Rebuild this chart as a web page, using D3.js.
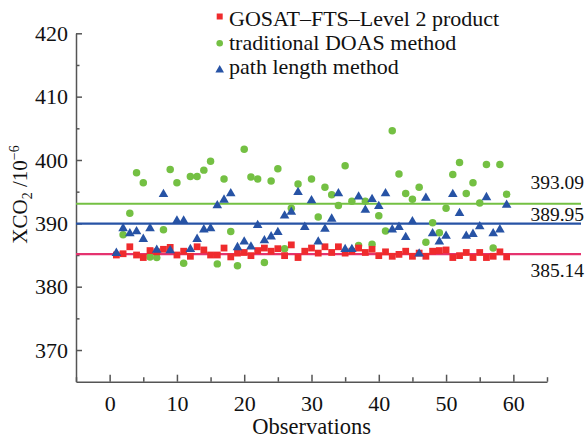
<!DOCTYPE html>
<html>
<head>
<meta charset="utf-8">
<script src="https://cdn.jsdelivr.net/npm/d3@7"></script>
<style>
  body { margin: 0; background: #fff; }
  text { font-family: "Liberation Serif", "DejaVu Serif", serif; fill: #111; }
</style>
</head>
<body>
<svg id="chart" width="588" height="438"></svg>
<script>
(function() {
  'use strict';

  // observation numbers 1..59
  var observations = d3.range(1, 60);

  // GOSAT-FTS Level 2 product
  var gosatValues = [
    385.0, 385.2, 386.3, 385.0, 384.6, 385.7, 385.5, 385.9, 386.2, 385.0,
    385.6, 384.8, 386.3, 385.8, 385.0, 385.0, 386.1, 384.7, 385.3, 385.4,
    384.9, 385.7, 386.1, 385.6, 386.0, 384.9, 386.6, 384.6, 385.6, 386.1,
    385.3, 386.3, 385.4, 386.3, 385.3, 385.6, 386.1, 385.4, 385.9, 384.9,
    385.5, 384.8, 385.1, 385.6, 384.8, 385.3, 384.8, 385.6, 385.7, 385.8,
    384.6, 384.9, 385.4, 384.6, 385.4, 384.6, 384.8, 385.5, 384.7
  ];

  // traditional DOAS method (null = not visible)
  var doasValues = [
    null,  388.2, 391.6, 398.0, 396.4, 384.7, 384.6, 389.0, 398.5, 396.4,
    383.7, 397.4, 397.4, 398.4, 399.8, 383.6, 397.0, 388.7, 383.3, 401.7,
    397.3, 397.0, 383.8, 396.7, 398.6, 386.0, 392.4, 396.2, null,  397.0,
    391.0, 395.7, 394.5, 392.8, 399.1, 393.5, 386.5, 393.5, 386.7, 391.2,
    388.8, 404.6, 397.8, 394.7, 393.8, 395.7, 387.0, 390.1, 388.5, 392.4,
    397.7, 399.6, 394.7, 396.4, 393.2, 399.3, 386.1, 399.3, 394.6
  ];

  // path length method
  var pathValues = [
    385.3, 389.2, 388.4, 388.7, 387.5, 389.2, 385.8, 394.6, 385.7, 390.4,
    390.4, 385.9, 387.5, 389.0, 389.2, 392.8, 393.7, 394.7, 386.2, 387.1,
    386.3, 389.7, 387.3, 387.9, 388.6, 391.2, 391.8, 394.9, 389.4, 393.6,
    387.1, 389.1, 390.7, 394.7, 385.9, 385.9, 394.2, 392.1, 393.8, 392.7,
    394.7, 389.0, 389.4, 387.8, 390.3, 385.2, 394.0, 388.4, 387.1, 388.0,
    394.6, 391.6, 388.0, 388.3, 389.5, 394.1, 388.4, 389.0, 392.9
  ];

  var seriesNames = ['GOSAT\u2013FTS\u2013Level 2 product', 'traditional DOAS method', 'path length method'];
  var meanValues = [393.09, 389.95, 385.14];
  var meanLabels = ['393.09', '389.95', '385.14'];
  var xTicks = [0, 10, 20, 30, 40, 50, 60];
  var xMinor = [-5, 5, 15, 25, 35, 45, 55, 65];
  var yTicks = [370, 380, 390, 400, 410, 420];
  var yMinor = [375, 385, 395, 405, 415];

  var colors = { red: '#ef2b2d', green: '#74c043', blue: '#2753a5', pink: '#e5336f', axis: '#555' };

  var svg = d3.select('#chart');
  svg.append('rect').attr('width', 588).attr('height', 438).attr('fill', '#fff');

  var x = d3.scaleLinear().domain([-5, 65]).range([76, 547]);
  var y = d3.scaleLinear().domain([365, 420]).range([381.7, 33.3]);

  function styleAxis(g) {
    g.selectAll('path, line').attr('stroke', colors.axis).attr('stroke-width', 1.5);
    g.selectAll('text').attr('fill', '#111').attr('font-size', 22)
      .attr('font-family', '"Liberation Serif", serif');
  }

  // minor ticks
  svg.append('g').attr('transform', 'translate(0,' + y(365) + ')')
    .call(d3.axisBottom(x).tickValues(xMinor).tickFormat('').tickSizeInner(-4.5).tickSizeOuter(0))
    .call(styleAxis).select('.domain').remove();
  svg.append('g').attr('transform', 'translate(' + x(-5) + ',0)')
    .call(d3.axisLeft(y).tickValues(yMinor).tickFormat('').tickSizeInner(-3.5).tickSizeOuter(0))
    .call(styleAxis).select('.domain').remove();

  // major axes
  svg.append('g').attr('transform', 'translate(0,' + y(365) + ')')
    .call(d3.axisBottom(x).tickValues(xTicks).tickSizeInner(-7).tickSizeOuter(0).tickPadding(14))
    .call(styleAxis);
  svg.append('g').attr('transform', 'translate(' + x(-5) + ',0)')
    .call(d3.axisLeft(y).tickValues(yTicks).tickSizeInner(-6).tickSizeOuter(0).tickPadding(8))
    .call(styleAxis);

  // mean lines
  var lineColors = [colors.green, colors.blue, colors.pink];
  var labelOffsets = [-15, -3, 23];
  svg.selectAll('.mean-line')
    .data(meanValues)
    .enter()
    .append('line')
    .attr('class', 'mean-line')
    .attr('x1', x(-5))
    .attr('x2', 581)
    .attr('y1', function(d) { return y(d); })
    .attr('y2', function(d) { return y(d); })
    .attr('stroke', function(d, i) { return lineColors[i]; })
    .attr('stroke-width', 2.2);

  svg.selectAll('.mean-label')
    .data(meanValues)
    .enter()
    .append('text')
    .attr('class', 'mean-label')
    .attr('x', 584)
    .attr('y', function(d, i) { return y(d) + labelOffsets[i]; })
    .attr('text-anchor', 'end')
    .attr('font-size', 19.5)
    .text(function(d, i) { return meanLabels[i]; });

  // markers
  var squareSym = d3.symbol().type(d3.symbolSquare).size(46);
  var circleSym = d3.symbol().type(d3.symbolCircle).size(44);
  var triSym = d3.symbol().type(d3.symbolTriangle).size(40);

  function plotSeries(values, sym, color) {
    var pts = observations.map(function(o, i) { return { o: o, v: values[i] }; })
      .filter(function(d) { return d.v !== null; });
    svg.append('g').selectAll('path')
      .data(pts)
      .enter()
      .append('path')
      .attr('d', sym)
      .attr('transform', function(d) { return 'translate(' + x(d.o) + ',' + y(d.v) + ')'; })
      .attr('fill', color);
  }

  plotSeries(doasValues, circleSym, colors.green);
  plotSeries(gosatValues, squareSym, colors.red);
  plotSeries(pathValues, triSym, colors.blue);

  // legend
  var legendSyms = [d3.symbol().type(d3.symbolSquare).size(36),
                    d3.symbol().type(d3.symbolCircle).size(34),
                    d3.symbol().type(d3.symbolTriangle).size(32)];
  var legendColors = [colors.red, colors.green, colors.blue];
  var legend = svg.append('g');
  seriesNames.forEach(function(name, i) {
    legend.append('path')
      .attr('d', legendSyms[i])
      .attr('transform', 'translate(219.7,' + (16.5 + 26.7 * i) + ')')
      .attr('fill', legendColors[i]);
    legend.append('text')
      .attr('x', 229)
      .attr('y', 26 + 24 * i)
      .attr('font-size', 22)
      .text(name);
  });

  // axis titles
  svg.append('text')
    .attr('x', 311.7)
    .attr('y', 434)
    .attr('text-anchor', 'middle')
    .attr('font-size', 22.5)
    .text('Observations');

  var yTitle = svg.append('text')
    .attr('transform', 'translate(27,194.5) rotate(-90)')
    .attr('text-anchor', 'middle')
    .attr('font-size', 21);
  yTitle.append('tspan').text('XCO');
  yTitle.append('tspan').attr('font-size', 14).attr('dy', 5).text('2');
  yTitle.append('tspan').attr('dy', -5).text(' /10');
  yTitle.append('tspan').attr('font-size', 14).attr('dy', -8).text('\u22126');
})();
</script>
</body>
</html>
